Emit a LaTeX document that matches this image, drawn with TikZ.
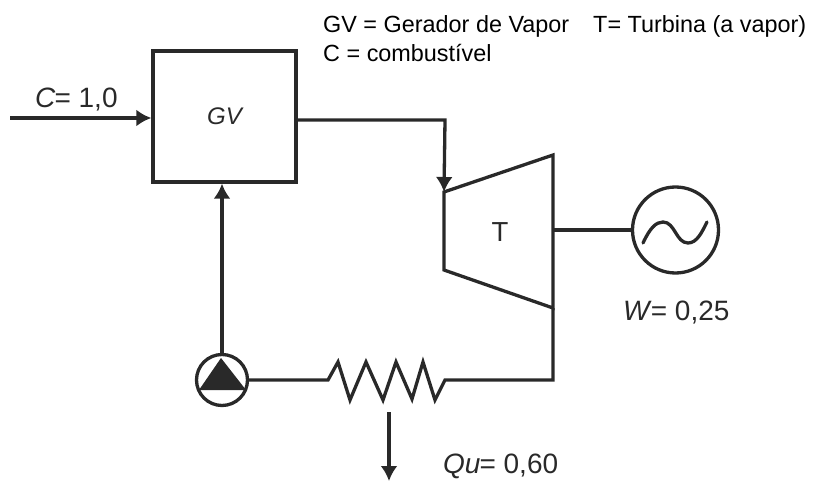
\documentclass[tikz,border=0pt]{standalone}
\usepackage{fontspec}
\setmainfont{Liberation Sans}
\usetikzlibrary{arrows.meta,calc}
\definecolor{ink}{gray}{0.16}
\tikzset{
  wire/.style={draw=ink,line width=3.3pt,line join=miter},
  flow/.style={wire,-{Latex[length=15pt,width=17pt]}},
  lbl/.style={inner sep=0pt,text=ink,font=\fontsize{28}{30}\selectfont,anchor=base west},
  legend/.style={inner sep=0pt,text=black,font=\fontsize{23.4}{26}\selectfont,anchor=base west},
  pt/.style={inner sep=0pt,minimum size=0pt}
}
\begin{document}
\begin{tikzpicture}[x=1pt,y=-1pt]
\useasboundingbox (0,0) rectangle (816,481);
% legend
\node[legend] (leg1) at (323,33) {GV = Gerador de Vapor\hspace{24pt}T= Turbina (a vapor)};
\node[legend] (leg2) at (323,62) {C = combustível};
% boiler
\node[wire,minimum width=143pt,minimum height=131pt,inner sep=0pt,font=\fontsize{24}{26}\selectfont\itshape,text=ink] (gv) at (224.5,116.5) {GV};
% turbine
\coordinate (tTL) at (444,192);
\coordinate (tTR) at (553,155);
\coordinate (tBR) at (553,308);
\coordinate (tBL) at (444,270);
\draw[wire] (tTL) -- (tTR) -- (tBR) -- (tBL) -- cycle;
\node[inner sep=0pt,text=ink,font=\fontsize{27.5}{30}\selectfont] (t) at (500,232) {T};
% generator
\node[wire,circle,minimum size=86pt,inner sep=0pt] (gen) at (675.5,230) {};
\draw[wire,line cap=round] (643,243) .. controls (650,228) and (656,222) .. (663,222) .. controls (675,222) and (676,243) .. (688,243) .. controls (697,243) and (702,232) .. (707,222);
% pump
\node[wire,circle,minimum size=51pt,inner sep=0pt] (pump) at (222,380) {};
\fill[ink] (221,358) -- (246,390) -- (199,390) -- cycle;
% condenser
\coordinate (r0) at (328,380);
\coordinate (r1) at (445,380);
\draw[wire] (pump.east) -- (r0) -- (338,362) -- (350,400) -- (366,362) -- (383,400) -- (396,362) -- (412,399) -- (423,362) -- (435,400) -- (r1) -- (553,380) -- (tBR);
% connectors
\coordinate (cin) at (10,118);
\draw[flow] (cin) -- (gv.west |- cin);
\draw[flow] (pump.north) -- (pump.north |- gv.south);
\coordinate (gvout) at (gv.east |- 0,120);
\draw[flow] (gvout) -- (445,120) -- (tTL);
\draw[wire] (553,230) -- (gen.west);
\coordinate (qa) at (389,412);
\coordinate (qb) at (389,481);
\draw[flow] (qa) -- (qb);
% labels
\node[lbl] (lc) at (35,108) {\textit{C}\kern-1pt= 1,0};
\node[lbl] (lw) at (623,320) {\textit{W}\kern-1pt= 0,25};
\node[lbl] (lq) at (443,473) {\textit{Qu}\kern-1pt= 0,60};
\end{tikzpicture}
\end{document}
